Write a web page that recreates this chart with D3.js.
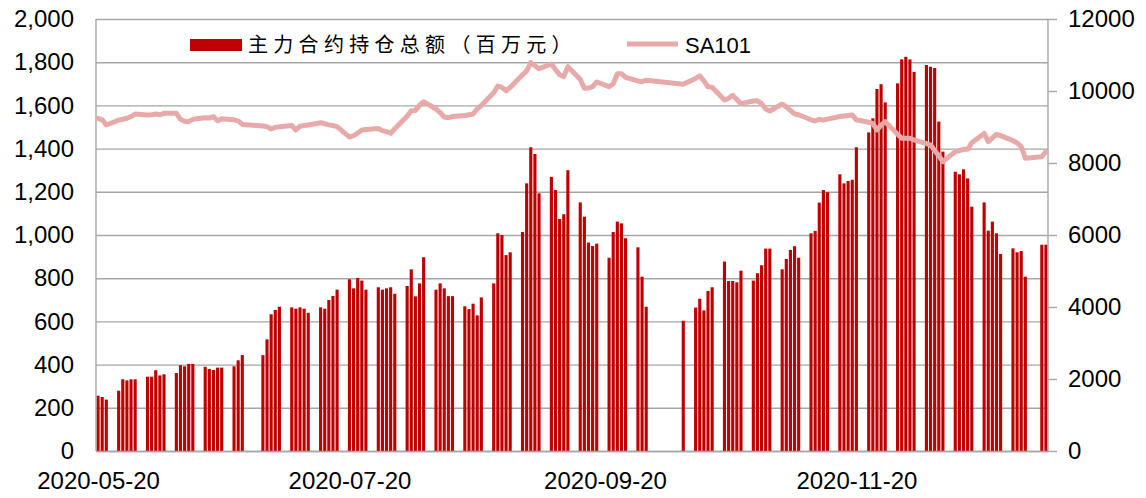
<!DOCTYPE html>
<html>
<head>
<meta charset="utf-8">
<script src="https://d3js.org/d3.v7.min.js"></script>
<style>
  body { margin: 0; background: #fff; }
  text { font-family: "Liberation Sans", Arial, sans-serif; fill: #000; }
</style>
</head>
<body>
<svg id="chart" width="1146" height="498"></svg>
<script>
/////////////////////////////////////////////////////////
// DATA
/////////////////////////////////////////////////////////

// trading days
var dates = [
  "2020-05-20","2020-05-21","2020-05-22",
  "2020-05-25","2020-05-26","2020-05-27","2020-05-28","2020-05-29",
  "2020-06-01","2020-06-02","2020-06-03","2020-06-04","2020-06-05",
  "2020-06-08","2020-06-09","2020-06-10","2020-06-11","2020-06-12",
  "2020-06-15","2020-06-16","2020-06-17","2020-06-18","2020-06-19",
  "2020-06-22","2020-06-23","2020-06-24",
  "2020-06-29","2020-06-30","2020-07-01","2020-07-02","2020-07-03",
  "2020-07-06","2020-07-07","2020-07-08","2020-07-09","2020-07-10",
  "2020-07-13","2020-07-14","2020-07-15","2020-07-16","2020-07-17",
  "2020-07-20","2020-07-21","2020-07-22","2020-07-23","2020-07-24",
  "2020-07-27","2020-07-28","2020-07-29","2020-07-30","2020-07-31",
  "2020-08-03","2020-08-04","2020-08-05","2020-08-06","2020-08-07",
  "2020-08-10","2020-08-11","2020-08-12","2020-08-13","2020-08-14",
  "2020-08-17","2020-08-18","2020-08-19","2020-08-20","2020-08-21",
  "2020-08-24","2020-08-25","2020-08-26","2020-08-27","2020-08-28",
  "2020-08-31","2020-09-01","2020-09-02","2020-09-03","2020-09-04",
  "2020-09-07","2020-09-08","2020-09-09","2020-09-10","2020-09-11",
  "2020-09-14","2020-09-15","2020-09-16","2020-09-17","2020-09-18",
  "2020-09-21","2020-09-22","2020-09-23","2020-09-24","2020-09-25",
  "2020-09-28","2020-09-29","2020-09-30",
  "2020-10-09",
  "2020-10-12","2020-10-13","2020-10-14","2020-10-15","2020-10-16",
  "2020-10-19","2020-10-20","2020-10-21","2020-10-22","2020-10-23",
  "2020-10-26","2020-10-27","2020-10-28","2020-10-29","2020-10-30",
  "2020-11-02","2020-11-03","2020-11-04","2020-11-05","2020-11-06",
  "2020-11-09","2020-11-10","2020-11-11","2020-11-12","2020-11-13",
  "2020-11-16","2020-11-17","2020-11-18","2020-11-19","2020-11-20",
  "2020-11-23","2020-11-24","2020-11-25","2020-11-26","2020-11-27",
  "2020-11-30","2020-12-01","2020-12-02","2020-12-03","2020-12-04",
  "2020-12-07","2020-12-08","2020-12-09","2020-12-10","2020-12-11",
  "2020-12-14","2020-12-15","2020-12-16","2020-12-17","2020-12-18",
  "2020-12-21","2020-12-22","2020-12-23","2020-12-24","2020-12-25",
  "2020-12-28","2020-12-29","2020-12-30","2020-12-31",
  "2021-01-04","2021-01-05"
];

// 主力合约持仓总额（百万元）
var holdings = [
  256,250,238,
  279,332,327,332,332,
  344,344,374,350,355,
  361,397,392,403,403,
  390,380,375,386,386,
  392,420,444,
  444,517,633,653,668,
  665,659,665,659,640,
  665,659,699,718,747,
  795,753,801,789,747,
  758,747,753,758,728,
  764,841,716,776,897,
  747,776,753,717,717,
  670,657,682,628,711,
  776,1008,1000,907,920,
  1014,1239,1406,1375,1193,
  1269,1208,1074,1096,1300,
  1151,1085,965,949,960,
  895,1014,1062,1054,985,
  943,807,668,
  603,
  664,705,651,741,758,
  877,787,787,781,835,
  789,823,860,937,937,
  841,889,931,948,895,
  1008,1019,1150,1208,1198,
  1281,1239,1250,1256,1406,
  1475,1540,1676,1698,1614,
  1702,1813,1825,1813,1755,
  1787,1779,1773,1525,1386,
  1293,1281,1304,1262,1131,
  1151,1020,1062,1008,912,
  938,920,926,807,
  955,955
];

// SA101 price
var sa101 = [
  9242,9200,9056,
  9190,9214,9242,9290,9361,
  9334,9340,9361,9340,9380,
  9380,9214,9160,9148,9214,
  9259,9250,9287,9176,9230,
  9200,9170,9070,
  9030,9009,8945,8990,9010,
  9040,8917,9020,9040,9056,
  9120,9090,9060,9040,9009,
  8720,8760,8830,8917,8930,
  8960,8900,8870,8826,8950,
  9300,9454,9460,9600,9703,
  9500,9400,9280,9259,9290,
  9320,9340,9360,9500,9600,
  9950,10139,10100,10009,10100,
  10450,10560,10787,10700,10620,
  10750,10600,10450,10398,10676,
  10325,10076,10080,10120,10250,
  10120,10200,10480,10480,10380,
  10280,10259,10300,
  10190,
  10350,10418,10280,10120,10103,
  9751,9800,9880,9760,9650,
  9723,9730,9650,9500,9445,
  9640,9560,9460,9362,9340,
  9200,9167,9214,9190,9220,
  9290,9306,9320,9334,9200,
  9130,9100,8917,9050,9148,
  8800,8686,8690,8686,8640,
  8540,8500,8350,8200,8037,
  8315,8340,8381,8380,8560,
  8820,8593,8700,8798,8760,
  8620,8560,8454,8131,
  8176,8315
];

var leftTicks = [0,200,400,600,800,1000,1200,1400,1600,1800,2000];
var rightTicks = [0,2000,4000,6000,8000,10000,12000];
var xTickLabels = ["2020-05-20","2020-07-20","2020-09-20","2020-11-20"];

var barName = "主力合约持仓总额（百万元）";
var lineName = "SA101";

/////////////////////////////////////////////////////////
// SETUP
/////////////////////////////////////////////////////////
var svg = d3.select('#chart');
var plotLeft = 96, plotRight = 1048, plotTop = 19, plotBottom = 451;
var barColor = '#c00000';
var lineColor = '#e8a9a9';
var gridColor = '#a6a6a6';

var parseDate = d3.timeParse('%Y-%m-%d');
var halfDay = 12 * 3600 * 1000;
var rows = dates.map(function(d, i) {
  return { date: parseDate(d), hold: holdings[i], price: sa101[i] };
});

var xScale = d3.scaleTime()
  .domain([new Date(+rows[0].date - halfDay), new Date(+rows[rows.length - 1].date + halfDay)])
  .range([plotLeft, plotRight]);
var yLeft = d3.scaleLinear().domain([0, 2000]).range([plotBottom, plotTop]);
var yRight = d3.scaleLinear().domain([0, 12000]).range([plotBottom, plotTop]);

var dayWidth = xScale(new Date(+rows[0].date + halfDay)) - xScale(new Date(+rows[0].date - halfDay));
var barWidth = dayWidth * 0.76;

// LEFT AXIS + GRIDLINES
var leftG = svg.append('g')
  .attr('transform', 'translate(' + plotLeft + ',0)')
  .call(d3.axisLeft(yLeft)
    .tickValues(leftTicks)
    .tickSize(-(plotRight - plotLeft))
    .tickPadding(22)
    .tickFormat(d3.format(',')));
leftG.select('.domain').remove();
leftG.selectAll('line').attr('stroke', gridColor).attr('stroke-width', 1.4);
leftG.selectAll('text').style('font-size', '24px').attr('fill', '#000');

// RIGHT AXIS
var rightG = svg.append('g')
  .attr('transform', 'translate(' + plotRight + ',0)')
  .call(d3.axisRight(yRight)
    .tickValues(rightTicks)
    .tickSize(9)
    .tickPadding(11)
    .tickFormat(d3.format('d')));
rightG.select('.domain').remove();
rightG.selectAll('line').attr('stroke', gridColor).attr('stroke-width', 1.4);
rightG.selectAll('text').style('font-size', '24px').attr('fill', '#000');

// BARS
svg.append('g').selectAll('rect')
  .data(rows)
  .enter()
  .append('rect')
  .attr('x', function(d) { return xScale(d.date) - barWidth / 2; })
  .attr('y', function(d) { return yLeft(d.hold); })
  .attr('width', barWidth)
  .attr('height', function(d) { return plotBottom - yLeft(d.hold); })
  .attr('fill', barColor);

// FRAME LINES
svg.append('line')
  .attr('x1', plotLeft).attr('x2', plotLeft)
  .attr('y1', plotTop).attr('y2', plotBottom)
  .attr('stroke', gridColor).attr('stroke-width', 1.4);
svg.append('line')
  .attr('x1', plotRight).attr('x2', plotRight)
  .attr('y1', plotTop).attr('y2', plotBottom)
  .attr('stroke', gridColor).attr('stroke-width', 1.4);

// BOTTOM AXIS
var bottomG = svg.append('g')
  .attr('transform', 'translate(0,' + plotBottom + ')')
  .call(d3.axisBottom(xScale)
    .tickValues(xTickLabels.map(parseDate))
    .tickSize(0)
    .tickPadding(21)
    .tickFormat(d3.timeFormat('%Y-%m-%d')));
bottomG.select('.domain').attr('stroke', gridColor).attr('stroke-width', 1.6);
bottomG.selectAll('text').style('font-size', '24px').attr('fill', '#000');

// SA101 LINE
var line = d3.line()
  .x(function(d) { return xScale(d.date); })
  .y(function(d) { return yRight(d.price); });

svg.append('path')
  .datum(rows)
  .attr('d', line)
  .attr('fill', 'none')
  .attr('stroke', lineColor)
  .attr('stroke-width', 5)
  .attr('stroke-linejoin', 'round')
  .attr('stroke-linecap', 'round');

// LEGEND
svg.append('rect')
  .attr('x', 190).attr('y', 39)
  .attr('width', 52).attr('height', 12)
  .attr('fill', barColor);
svg.append('text')
  .text(barName)
  .attr('x', 248).attr('y', 45)
  .attr('dy', '0.35em')
  .style('font-family', '"Noto Sans CJK SC", sans-serif')
  .style('font-size', '20px')
  .style('letter-spacing', '5.3px');

svg.append('line')
  .attr('x1', 627).attr('x2', 678)
  .attr('y1', 44).attr('y2', 44)
  .attr('stroke', lineColor)
  .attr('stroke-width', 5);
svg.append('text')
  .text(lineName)
  .attr('x', 685).attr('y', 45)
  .attr('dy', '0.35em')
  .style('font-size', '22px');
</script>
</body>
</html>
